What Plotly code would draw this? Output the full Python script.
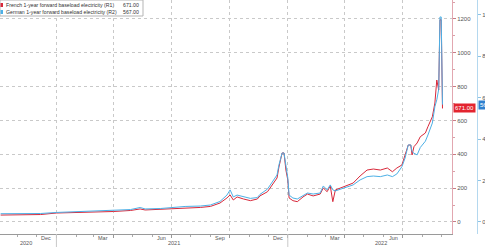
import datetime as dt
import plotly.graph_objects as go

# ---- data ----
day_offsets = [-88, -57, -25, 0, 38, 69, 90, 117, 132, 140,
               164, 180, 203, 227, 243, 258, 269, 274, 279, 285,
               295, 306, 317, 321, 333, 340, 348, 351, 356, 359,
               362, 365, 367, 373, 380, 389, 396, 405, 416, 421,
               427, 432, 436, 440, 448, 458, 468, 479, 490, 500,
               511, 522, 530, 537, 545, 550, 555, 559, 561, 564,
               569, 574, 582, 586, 593, 597, 600, 603, 605, 607,
               609]
base_day = dt.date(2021, 1, 1)
dates = [(base_day + dt.timedelta(days=d)).isoformat() for d in day_offsets]

french = [41, 41, 44, 53, 56, 59, 62, 68, 77, 71,
          74, 80, 83, 86, 92, 112, 142, 160, 130, 148,
          136, 126, 136, 154, 179, 219, 260, 325, 408, 408,
          307, 248, 142, 126, 120, 148, 165, 154, 165, 201,
          179, 213, 120, 189, 201, 213, 230, 272, 307, 313,
          307, 319, 297, 319, 337, 396, 455, 455, 396, 445,
          467, 504, 526, 563, 622, 703, 839, 780, 1195, 1195,
          671]
german = [40, 39, 41, 46, 51, 53, 56, 60, 70, 63,
          65, 70, 75, 77, 82, 99, 130, 155, 121, 130,
          121, 114, 118, 133, 159, 188, 227, 275, 333, 333,
          275, 213, 130, 116, 111, 126, 140, 135, 140, 174,
          155, 179, 155, 150, 159, 169, 179, 203, 219, 222,
          219, 227, 219, 232, 267, 309, 372, 372, 340, 332,
          324, 360, 390, 420, 478, 557, 590, 640, 990, 990,
          567]

french_name = "French 1-year forward baseload electricity (R1)"
german_name = "German 1-year forward baseload electricity (R2)"

r1_ticks = [0, 200, 400, 600, 800, 1000, 1200]
r2_ticks = [0, 200, 400, 600, 800, 1000]
quarter_starts = ["2021-01-01", "2021-04-01", "2021-07-01", "2021-10-01",
                  "2022-01-01", "2022-04-01", "2022-07-01"]
month_labels = ["Dec", "Mar", "Jun", "Sep", "Dec", "Mar", "Jun"]
month_label_dates = ["2020-12-16", "2021-03-16", "2021-06-16", "2021-09-16",
                     "2021-12-16", "2022-03-16", "2022-06-16"]
year_labels = ["2020", "2021", "2022"]
year_label_dates = ["2020-11-14", "2021-07-05", "2022-05-28"]
year_breaks = ["2021-01-01", "2022-01-01"]

RED = "#d8283a"
BLUE = "#4db0e6"
W, H = 485, 247
TOP, BOTTOM = 0, 13
PH = H - TOP - BOTTOM
FONT = "Liberation Sans"

def py(pix):
    return (H - BOTTOM - pix) / PH

def px(pix):
    return pix / W

fig = go.Figure()
fig.add_trace(go.Scatter(x=dates, y=french, mode="lines", name=french_name,
                         line=dict(color=RED, width=1), yaxis="y"))
fig.add_trace(go.Scatter(x=dates, y=german, mode="lines", name=german_name,
                         line=dict(color=BLUE, width=1), yaxis="y2"))

fig.update_layout(
    width=W, height=H,
    margin=dict(l=0, r=0, t=TOP, b=BOTTOM, pad=0, autoexpand=False),
    paper_bgcolor="white", plot_bgcolor="white",
    showlegend=False, hovermode=False,
    font=dict(family=FONT, size=6, color="#555555"),
    xaxis=dict(
        domain=[0, 452 / W], range=["2020-10-04", "2022-09-17"], automargin=False,
        tickmode="array", tickvals=quarter_starts, showticklabels=False,
        showgrid=True, gridcolor="#c9c9c9", griddash="dot", gridwidth=1,
        ticks="outside", ticklen=3, tickcolor="#999999",
        minor=dict(dtick="M1", tick0="2020-11-01", ticks="outside", ticklen=2,
                   tickcolor="#aaaaaa", showgrid=False),
        showline=True, linecolor="#9a9a9a", linewidth=1, zeroline=False,
    ),
    yaxis=dict(
        side="right", anchor="x", range=[-71, 1312], automargin=False,
        tickmode="array", tickvals=r1_ticks,
        showgrid=True, gridcolor="#c9c9c9", griddash="dot", gridwidth=1,
        zeroline=False, ticks="outside", ticklen=3, tickcolor="#c77b86",
        minor=dict(dtick=100, ticks="outside", ticklen=2, tickcolor="#d9a0a8"),
        showline=True, linecolor="#e2a7b0", linewidth=1,
        tickfont=dict(size=6, color="#555555"),
    ),
    yaxis2=dict(
        overlaying="y", side="right", anchor="free", position=477 / W,
        range=[-58, 1072], tickmode="array", tickvals=r2_ticks, automargin=False,
        showgrid=False, zeroline=False, ticks="outside", ticklen=3,
        tickcolor="#8cc3e6", showline=True, linecolor="#b4d8ef", linewidth=1,
        tickfont=dict(size=6, color="#555555"),
    ),
)

shapes = []
annotations = []

# month and year labels under the axis
for lab, d in zip(month_labels, month_label_dates):
    annotations.append(dict(x=d, y=py(238.5), xref="x", yref="paper", text=lab,
                            showarrow=False, xanchor="center", yanchor="middle",
                            font=dict(size=5.5, color="#555555")))
for lab, d in zip(year_labels, year_label_dates):
    annotations.append(dict(x=d, y=py(243.3), xref="x", yref="paper", text=lab,
                            showarrow=False, xanchor="center", yanchor="middle",
                            font=dict(size=5.5, color="#555555")))
for d in year_breaks:
    shapes.append(dict(type="line", xref="x", yref="paper", x0=d, x1=d,
                       y0=0, y1=py(H), line=dict(color="#c9c9c9", width=1)))

# legend box
shapes.append(dict(type="rect", xref="paper", yref="paper", x0=px(0), x1=px(143),
                   y0=py(16), y1=py(0), fillcolor="white",
                   line=dict(color="#b5b5b5", width=1), layer="above"))
for name, val, col, cy in [(french_name, french[-1], RED, 5),
                           (german_name, german[-1], BLUE, 12)]:
    shapes.append(dict(type="rect", xref="paper", yref="paper",
                       x0=px(0.5), x1=px(3), y0=py(cy + 2), y1=py(cy - 2),
                       fillcolor=col, line=dict(width=0), layer="above"))
    annotations.append(dict(x=px(3.5), y=py(cy), xref="paper", yref="paper",
                            text=name, showarrow=False, xanchor="left",
                            yanchor="middle", font=dict(size=5.2, color="#333333")))
    annotations.append(dict(x=px(141), y=py(cy), xref="paper", yref="paper",
                            text=f"{val:.2f}", showarrow=False, xanchor="right",
                            yanchor="middle", font=dict(size=5.2, color="#333333")))

# last-value tags
annotations.append(dict(x=px(453), y=french[-1], xref="paper", yref="y",
                        text=f"{french[-1]:.2f}", showarrow=False, xanchor="left",
                        yanchor="middle", bgcolor="#e3242f", borderpad=1,
                        font=dict(size=6, color="white")))
annotations.append(dict(x=px(478), y=german[-1], xref="paper", yref="y2",
                        text=f"{german[-1]:.2f}", showarrow=False, xanchor="left",
                        yanchor="middle", bgcolor="#2f7fce", borderpad=1,
                        font=dict(size=6, color="white")))

fig.update_layout(shapes=shapes, annotations=annotations)
fig.write_html("out.html", config={"displayModeBar": False})
